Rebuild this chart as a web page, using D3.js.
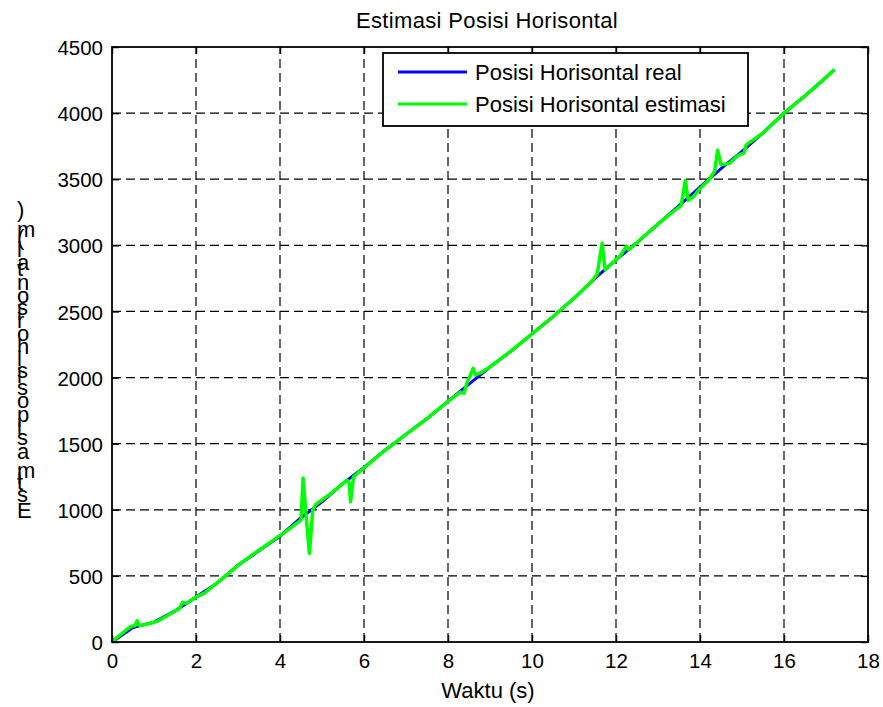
<!DOCTYPE html>
<html>
<head>
<meta charset="utf-8">
<script src="https://cdn.jsdelivr.net/npm/d3@7"></script>
<style>
  body { margin: 0; background: #fff; }
  svg { display: block; }
  text { font-family: "Liberation Sans", Arial, Helvetica, sans-serif; fill: #000; }
</style>
</head>
<body>
<svg id="chart" width="883" height="707"></svg>
<script>
// Axis ticks
const xTicks = [0, 2, 4, 6, 8, 10, 12, 14, 16, 18];
const yTicks = [0, 500, 1000, 1500, 2000, 2500, 3000, 3500, 4000, 4500];

// Real horizontal position (m) over time (s)
const timeReal = [0, 0.5, 1, 1.5, 2, 2.5, 3, 3.5, 4, 4.5, 5, 5.5, 6, 6.5, 7, 7.5, 8, 8.5, 9, 9.5,
  10, 10.5, 11, 11.5, 12, 12.5, 13, 13.5, 14, 14.5, 15, 15.5, 16, 16.5, 17, 17.2];
const posReal = [0, 110, 150, 235, 340, 445, 580, 690, 800, 940, 1060, 1200, 1320, 1450, 1570, 1690, 1820, 1950, 2080, 2200,
  2330, 2460, 2600, 2750, 2890, 3020, 3160, 3300, 3440, 3580, 3710, 3850, 4000, 4130, 4270, 4330];

// Estimated horizontal position (m) over time (s)
const timeEst = [0, 0.1, 0.3, 0.45, 0.55, 0.6, 0.65, 0.9, 1.1, 1.3, 1.5, 1.6, 1.68, 1.78, 2.0, 2.2, 2.4, 2.65,
  3.0, 3.3, 3.6, 3.95, 4.2, 4.45, 4.5, 4.55, 4.62, 4.7, 4.78, 4.85, 5.2, 5.6, 5.65, 5.68, 5.75, 5.9,
  6.2, 6.5, 7.0, 7.5, 8.0, 8.3, 8.38, 8.45, 8.55, 8.6, 8.65, 8.8, 9.0, 9.5, 10.0, 10.5, 11.0, 11.4,
  11.55, 11.67, 11.74, 12.1, 12.25, 12.3, 12.6, 13.0, 13.3, 13.55, 13.65, 13.72, 13.85, 14.0, 14.2,
  14.35, 14.42, 14.5, 14.7, 14.9, 15.05, 15.1, 15.5, 16.0, 16.5, 17.0, 17.2];
const posEst = [0, 30, 80, 118, 125, 160, 125, 140, 160, 197, 235, 250, 300, 292, 340, 370, 420, 485,
  580, 650, 715, 795, 850, 910, 925, 1240, 960, 670, 1000, 1040, 1120, 1225, 1200, 1060, 1250, 1290,
  1370, 1450, 1570, 1690, 1820, 1890, 1880, 1960, 2030, 2070, 2020, 2040, 2080, 2200, 2330, 2460, 2600, 2720,
  2780, 3015, 2815, 2920, 2995, 2965, 3050, 3160, 3240, 3300, 3490, 3340, 3370, 3430, 3490,
  3560, 3720, 3610, 3620, 3680, 3700, 3760, 3850, 4000, 4130, 4270, 4330];

const seriesNames = ["Posisi Horisontal real", "Posisi Horisontal estimasi"];
const seriesColors = ["#0000ff", "#00ff00"];
const titleText = "Estimasi Posisi Horisontal";
const xLabelText = "Waktu (s)";
const yLabelText = "Estimasi posisi horisontal (m)";

const svg = d3.select("#chart");
const plot = { left: 112, right: 868, top: 47, bottom: 642 };
const x = d3.scaleLinear().domain([0, 18]).range([plot.left, plot.right]);
const y = d3.scaleLinear().domain([0, 4500]).range([plot.bottom, plot.top]);

// Dashed grid
const grid = svg.append("g").attr("stroke", "#000").attr("stroke-width", 1.2)
  .attr("stroke-dasharray", "9,5");
grid.selectAll("line.gx").data(xTicks.slice(1, -1)).join("line")
  .attr("x1", d => x(d)).attr("x2", d => x(d))
  .attr("y1", plot.bottom).attr("y2", plot.top);
grid.selectAll("line.gy").data(yTicks.slice(1, -1)).join("line")
  .attr("y1", d => y(d)).attr("y2", d => y(d))
  .attr("x1", plot.left).attr("x2", plot.right);

// Series
const line = d3.line().x(d => x(d[0])).y(d => y(d[1]));
const realData = timeReal.map((t, i) => [t, posReal[i]]);
const estData = timeEst.map((t, i) => [t, posEst[i]]);
svg.append("path").datum(realData).attr("d", line)
  .attr("fill", "none").attr("stroke", seriesColors[0]).attr("stroke-width", 3)
  .attr("stroke-linejoin", "round");
svg.append("path").datum(estData).attr("d", line)
  .attr("fill", "none").attr("stroke", seriesColors[1]).attr("stroke-width", 3.5)
  .attr("stroke-linejoin", "round");

// Axes with inward ticks on all four sides
const tickFont = "20.5px";
const fmt = d3.format("d");
const axB = svg.append("g").attr("transform", `translate(0,${plot.bottom})`)
  .call(d3.axisBottom(x).tickValues(xTicks).tickFormat(fmt).tickSizeInner(-7).tickSizeOuter(0).tickPadding(11));
const axL = svg.append("g").attr("transform", `translate(${plot.left},0)`)
  .call(d3.axisLeft(y).tickValues(yTicks).tickFormat(fmt).tickSizeInner(-7).tickSizeOuter(0).tickPadding(9));
const axT = svg.append("g").attr("transform", `translate(0,${plot.top})`)
  .call(d3.axisTop(x).tickValues(xTicks).tickSizeInner(-7).tickSizeOuter(0).tickFormat(""));
const axR = svg.append("g").attr("transform", `translate(${plot.right},0)`)
  .call(d3.axisRight(y).tickValues(yTicks).tickSizeInner(-7).tickSizeOuter(0).tickFormat(""));
[axB, axL, axT, axR].forEach(g => {
  g.select(".domain").remove();
  g.selectAll(".tick line").attr("stroke", "#000").attr("stroke-width", 1.4);
  g.selectAll("text").attr("font-size", tickFont)
    .style("font-family", '"Liberation Sans", Arial, sans-serif').attr("fill", "#000");
});
axL.selectAll("text").attr("dy", "0.37em");

// Box
svg.append("rect").attr("x", plot.left).attr("y", plot.top)
  .attr("width", plot.right - plot.left).attr("height", plot.bottom - plot.top)
  .attr("fill", "none").attr("stroke", "#000").attr("stroke-width", 1.8);

// Title and x label
svg.append("text").attr("x", (plot.left + plot.right) / 2 - 3).attr("y", 28)
  .attr("text-anchor", "middle").attr("font-size", "22px").attr("letter-spacing", "0.35px")
  .text(titleText);
svg.append("text").attr("x", (plot.left + plot.right) / 2 - 2).attr("y", 698)
  .attr("text-anchor", "middle").attr("font-size", "22px").text(xLabelText);

// Y label: upright glyphs stacked bottom-to-top
const yFont = 22;
const ctx = document.createElement("canvas").getContext("2d");
ctx.font = `${yFont}px "Liberation Sans", Arial, sans-serif`;
const chars = Array.from(yLabelText);
const yl = svg.append("text").attr("font-size", yFont + "px");
let cum = 0;
const stretch = 1.08;
chars.forEach(ch => {
  yl.append("tspan").attr("x", 17).attr("y", 518 - cum * stretch).text(ch);
  cum += ctx.measureText(ch).width;
});

// Legend
const lg = svg.append("g");
lg.append("rect").attr("x", 383).attr("y", 53).attr("width", 365).attr("height", 73)
  .attr("fill", "#fff").attr("stroke", "#000").attr("stroke-width", 1.8);
seriesNames.forEach((name, i) => {
  const ly = 72 + i * 32;
  lg.append("line").attr("x1", 398).attr("x2", 467).attr("y1", ly).attr("y2", ly)
    .attr("stroke", seriesColors[i]).attr("stroke-width", 3);
  lg.append("text").attr("x", 475).attr("y", ly + 8).attr("font-size", "22px").text(name);
});
</script>
</body>
</html>
